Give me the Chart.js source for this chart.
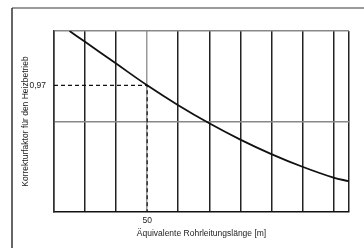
<!DOCTYPE html>
<html>
<head>
<meta charset="utf-8">
<script src="https://cdn.jsdelivr.net/npm/chart.js@4"></script>
<style>
  html, body { margin: 0; padding: 0; background: #fff; }
  #wrap { width: 364px; height: 248px; }
</style>
</head>
<body>
<div id="wrap"><canvas id="chart" width="364" height="248"></canvas></div>
<script>
// Äquivalente Rohrleitungslänge [m] und Korrekturfaktor
const lengths = [25, 30, 40, 50, 60, 70, 80, 90, 100, 110, 115];
const factors = [1.000, 0.994, 0.982, 0.970, 0.959, 0.949, 0.940, 0.932, 0.925, 0.919, 0.917];

// Ablesebeispiel
const markX = 50;
const markY = 0.97;

// Achsen
const xTicks = [20, 30, 40, 50, 60, 70, 80, 90, 100, 110, 115];
const yTicks = [0.90, 0.95, 0.97, 1.00];
const xLabelled = [50];
const yLabelled = [0.97];

const FONT = '"Liberation Sans Narrow", "Arial Narrow", "Liberation Sans", sans-serif';

// Rahmen links und oben wie im Original
const framePlugin = {
    id: 'frame',
    beforeDraw(chart) {
        const ctx = chart.ctx;
        ctx.save();
        ctx.lineWidth = 1.5;
        ctx.strokeStyle = '#777';
        ctx.beginPath();
        ctx.moveTo(12, 8);
        ctx.lineTo(364, 8);
        ctx.stroke();
        ctx.strokeStyle = '#333';
        ctx.beginPath();
        ctx.moveTo(12, 8);
        ctx.lineTo(12, 248);
        ctx.stroke();
        ctx.restore();
    }
};

new Chart(document.getElementById('chart').getContext('2d'), {
    type: 'line',
    data: {
        datasets: [
            {
                data: lengths.map((l, i) => ({ x: l, y: factors[i] })),
                borderColor: '#111',
                borderWidth: 1.8,
                pointRadius: 0,
                tension: 0.4,
                fill: false
            },
            {
                // gestrichelte Ablesehilfe
                data: [
                    { x: xTicks[0], y: markY },
                    { x: markX, y: markY },
                    { x: markX, y: yTicks[0] }
                ],
                borderColor: '#111',
                borderWidth: 1.2,
                borderDash: [4, 3],
                pointRadius: 0,
                tension: 0,
                fill: false
            }
        ]
    },
    plugins: [framePlugin],
    options: {
        responsive: false,
        animation: false,
        layout: { padding: { top: 31, right: 15, bottom: 0, left: 0 } },
        plugins: { legend: { display: false }, tooltip: { enabled: false } },
        scales: {
            x: {
                type: 'linear',
                min: xTicks[0],
                max: xTicks[xTicks.length - 1],
                afterBuildTicks: s => { s.ticks = xTicks.map(v => ({ value: v })); },
                afterFit: s => { s.height = 36; },
                grid: {
                    drawTicks: false,
                    lineWidth: 1.5,
                    color: c => (c.tick && c.tick.value === markX) ? '#999' : '#222'
                },
                border: { color: '#111', width: 1.5 },
                ticks: {
                    padding: 4,
                    color: '#222',
                    maxRotation: 0,
                    autoSkip: false,
                    font: { family: FONT, size: 8.5 },
                    callback: v => xLabelled.includes(v) ? String(v) : ''
                },
                title: {
                    display: true,
                    text: 'Äquivalente Rohrleitungslänge [m]',
                    color: '#222',
                    font: { family: FONT, size: 8.5 },
                    padding: { top: 0, bottom: 9 }
                }
            },
            y: {
                type: 'linear',
                min: yTicks[0],
                max: yTicks[yTicks.length - 1],
                afterBuildTicks: s => { s.ticks = yTicks.map(v => ({ value: v })); },
                afterFit: s => { s.width = 54; },
                grid: {
                    drawTicks: false,
                    lineWidth: 1.5,
                    color: c => (c.tick && (c.tick.value === 0.95 || c.tick.value === 1.00)) ? '#888' : 'rgba(0,0,0,0)'
                },
                border: { color: '#333', width: 1.5 },
                ticks: {
                    padding: 8,
                    color: '#222',
                    autoSkip: false,
                    font: { family: FONT, size: 8.5 },
                    callback: v => yLabelled.includes(v) ? String(v).replace('.', ',') : ''
                },
                title: {
                    display: true,
                    text: 'Korrekturfaktor für den Heizbetrieb',
                    color: '#222',
                    font: { family: FONT, size: 8.5 },
                    padding: { top: 21, bottom: 0 }
                }
            }
        }
    }
});
</script>
</body>
</html>
